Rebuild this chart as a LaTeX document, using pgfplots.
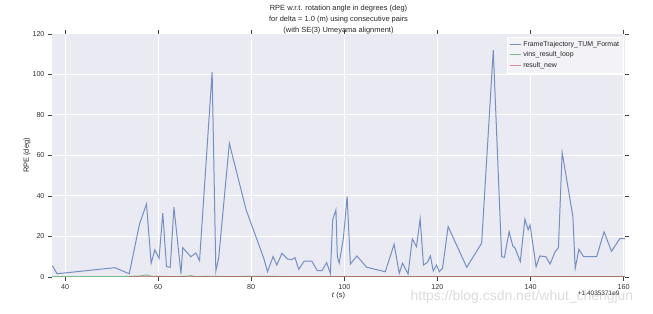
\documentclass[border=0pt]{standalone}
\usepackage{fontspec}
\setmainfont{Liberation Sans}
\usepackage{pgfplots}
\pgfplotsset{compat=1.18}
\definecolor{bg}{HTML}{EAEAF2}
\definecolor{sbblue}{HTML}{4C72B0}
\definecolor{sbgreen}{HTML}{55A868}
\definecolor{sbred}{HTML}{C44E52}
\begin{document}
\begin{tikzpicture}
\begin{axis}[name=ax, at={(0,0)}, anchor=south west, scale only axis,
  width=573bp, height=243bp,
  xmin=37.2, xmax=160.3, ymin=0, ymax=120,
  xtick={40,60,...,160}, ytick={0,20,...,120},
  axis background/.style={fill=bg},
  axis line style={draw=none},
  grid=major, major grid style={white, line width=1bp},
  tick align=outside, tick pos=both, major tick length=4bp,
  tick style={black!75, line width=0.6bp},
  ticklabel style={font=\fontsize{7.2}{8}\selectfont, text=black!80},
  /pgf/number format/assume math mode=true,
  xlabel={\textit{t} (s)}, ylabel={RPE (deg)},
  label style={font=\fontsize{7.5}{9}\selectfont, text=black!85},
  xlabel style={at={(axis description cs:0.5,0)}, anchor=center, yshift=-19bp},
  ylabel style={at={(axis description cs:0,0.5)}, anchor=center, yshift=25bp},
  title={RPE w.r.t. rotation angle in degrees (deg)\\for delta = 1.0 (m) using consecutive pairs\\(with SE(3) Umeyama alignment)},
  title style={at={(axis description cs:0.5,1)}, anchor=south, yshift=-10bp, align=center, font=\fontsize{7.5}{11.5}\selectfont, text=black!85},
  legend style={at={(rel axis cs:0.997,0.988)}, anchor=north east, fill=bg!60!white, draw=white, font=\fontsize{7}{9.5}\selectfont, text=black!85, inner sep=2bp},
  legend cell align=left,
  legend image code/.code={\draw[#1] (0bp,0bp) -- (11bp,0bp);},
  clip=true,
]
\addplot[sbblue, opacity=0.75, line width=1bp] coordinates {
(37.3,5.5)(38.3,1.6)(50.7,4.6)(53.8,1.6)(56.0,26.2)(57.5,36.0)(58.5,6.8)(59.3,13.4)(60.2,9.2)(61.0,31.5)(61.8,5.1)(62.6,4.8)(63.4,34.5)(64.9,1.6)(65.3,14.5)(67.0,10.0)(68.1,11.9)(68.9,8.1)(71.6,101.3)(72.4,3.0)(73.0,9.2)(75.3,66.0)(78.9,33.2)(82.7,9.2)(83.5,2.6)(84.7,10.1)(85.5,5.9)(86.6,11.7)(87.8,8.9)(88.7,8.6)(89.4,9.6)(90.2,3.8)(91.4,7.9)(93.0,7.9)(94.2,3.1)(95.2,3.1)(96.2,7.1)(97.0,1.8)(97.5,28.2)(98.2,33.2)(98.5,10.0)(98.9,6.8)(99.8,19.2)(100.6,39.8)(101.3,6.4)(102.7,10.4)(104.8,4.8)(108.8,2.6)(110.7,16.2)(111.8,1.8)(112.5,6.8)(113.7,1.5)(114.6,18.8)(115.5,15.0)(116.3,28.7)(117.0,5.9)(117.8,7.1)(118.5,10.4)(119.1,3.0)(119.8,5.9)(120.4,2.6)(121.1,4.3)(122.3,24.9)(126.3,4.8)(129.5,16.7)(132.0,112.0)(133.8,10.0)(134.4,9.7)(135.4,22.4)(136.2,15.3)(136.7,14.2)(137.8,7.6)(138.8,28.6)(139.5,23.3)(139.9,25.7)(141.2,5.1)(142.0,10.4)(143.3,10.0)(144.2,6.4)(145.3,12.5)(146.0,14.5)(146.8,61.5)(149.1,29.9)(149.6,4.3)(150.4,13.7)(151.4,10.0)(154.2,10.0)(155.8,22.3)(157.4,12.7)(159.2,19.0)(160.3,19.0)
};
\addlegendentry{FrameTrajectory\_TUM\_Format}
\addplot[sbgreen, opacity=0.75, line width=0.9bp] coordinates {
(37.3,0.2)(50.0,0.2)(54.0,0.3)(56.0,0.5)(57.5,1.0)(58.5,0.4)(62.0,0.2)(66.0,0.3)(67.0,0.7)(68.0,0.2)(72.0,0.4)(73.0,0.2)(80.0,0.3)(100.0,0.2)(120.0,0.2)(140.0,0.2)(160.3,0.2)
};
\addlegendentry{vins\_result\_loop}
\addplot[sbred, opacity=0.6, line width=0.9bp] coordinates {
(53.8,0.1)(60.0,0.1)(70.0,0.1)(80.0,0.1)(100.0,0.1)(120.0,0.1)(140.0,0.1)(160.3,0.1)
};
\addlegendentry{result\_new}
\end{axis}
\node[anchor=center, font=\fontsize{14}{16}\selectfont, text=black!14] at (470bp,-20bp) {https://blog.csdn.net/whut\_chengjun};
\node[anchor=east, font=\fontsize{6.5}{8}\selectfont, text=black!80] at (571bp,-16bp) {+1.4035371e9};
\pgfresetboundingbox
\path (-52bp,-37bp) rectangle (601bp,277bp);
\end{tikzpicture}
\end{document}
